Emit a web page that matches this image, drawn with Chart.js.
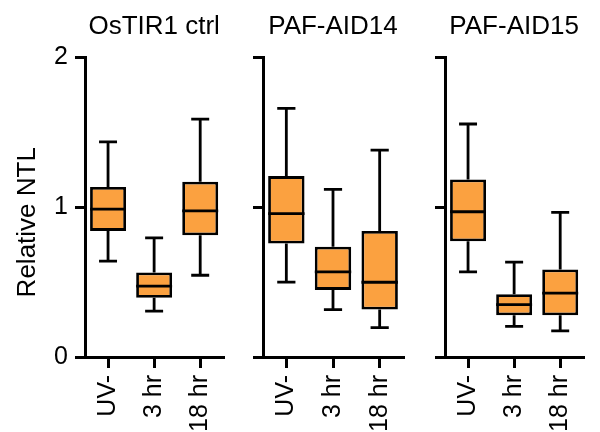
<!DOCTYPE html>
<html>
<head>
<meta charset="utf-8">
<script src="https://cdn.jsdelivr.net/npm/chart.js@4.4.0/dist/chart.umd.min.js"></script>
<style>
  body { margin: 0; background: #fff; }
  .panel { position: absolute; top: 0; }
</style>
</head>
<body>
<canvas id="c1" class="panel" style="left:0" width="240" height="432"></canvas>
<canvas id="c2" class="panel" style="left:240px" width="180" height="432"></canvas>
<canvas id="c3" class="panel" style="left:420px" width="180" height="432"></canvas>
<script>
const categories = ["UV-", "3 hr", "18 hr"];
const panelTitles = ["OsTIR1 ctrl", "PAF-AID14", "PAF-AID15"];
const yTicks = [0, 1, 2];
const yTitle = "Relative NTL";

// box stats per panel, one value per category
const ctrlMin = [0.64, 0.307, 0.546];
const ctrlQ1 = [0.842, 0.395, 0.813];
const ctrlMedian = [0.987, 0.473, 0.976];
const ctrlQ3 = [1.136, 0.564, 1.17];
const ctrlMax = [1.437, 0.795, 1.589];

const aid14Min = [0.5, 0.317, 0.196];
const aid14Q1 = [0.758, 0.448, 0.317];
const aid14Median = [0.958, 0.568, 0.499];
const aid14Q3 = [1.208, 0.737, 0.842];
const aid14Max = [1.66, 1.119, 1.382];

const aid15Min = [0.568, 0.205, 0.174];
const aid15Q1 = [0.773, 0.279, 0.279];
const aid15Median = [0.97, 0.35, 0.426];
const aid15Q3 = [1.186, 0.419, 0.585];
const aid15Max = [1.556, 0.633, 0.966];

const orange = "#FBA140";
const fontFamily = '"Liberation Sans", Arial, sans-serif';
Chart.defaults.font.family = fontFamily;
Chart.defaults.color = "#000";

// whiskers + median lines around the floating bars
const boxPlugin = {
  id: "boxWhiskers",
  beforeDatasetsDraw(chart) {
    const ds = chart.data.datasets[0];
    const y = chart.scales.y;
    const ctx = chart.ctx;
    ctx.save();
    ctx.strokeStyle = "#000";
    ctx.lineWidth = 2.8;
    chart.getDatasetMeta(0).data.forEach((bar, i) => {
      const x = bar.x;
      const cap = bar.width / 4;
      const yMin = y.getPixelForValue(ds.stats.min[i]);
      const yMax = y.getPixelForValue(ds.stats.max[i]);
      const yQ1 = y.getPixelForValue(ds.data[i][0]);
      const yQ3 = y.getPixelForValue(ds.data[i][1]);
      ctx.beginPath();
      ctx.moveTo(x, yQ3); ctx.lineTo(x, yMax);
      ctx.moveTo(x - cap, yMax); ctx.lineTo(x + cap, yMax);
      ctx.moveTo(x, yQ1); ctx.lineTo(x, yMin);
      ctx.moveTo(x - cap, yMin); ctx.lineTo(x + cap, yMin);
      ctx.stroke();
    });
    ctx.restore();
  },
  afterDatasetsDraw(chart) {
    const ds = chart.data.datasets[0];
    const y = chart.scales.y;
    const ctx = chart.ctx;
    ctx.save();
    ctx.strokeStyle = "#000";
    ctx.lineWidth = 2.8;
    chart.getDatasetMeta(0).data.forEach((bar, i) => {
      const ym = y.getPixelForValue(ds.stats.median[i]);
      ctx.beginPath();
      ctx.moveTo(bar.x - bar.width / 2, ym);
      ctx.lineTo(bar.x + bar.width / 2, ym);
      ctx.stroke();
    });
    ctx.restore();
  },
};

const yTitlePlugin = {
  id: "yTitle",
  afterDraw(chart) {
    const a = chart.chartArea;
    const ctx = chart.ctx;
    ctx.save();
    ctx.translate(28, (a.top + a.bottom) / 2 + 15);
    ctx.rotate(-Math.PI / 2);
    ctx.font = "26px " + fontFamily;
    ctx.fillStyle = "#000";
    ctx.textAlign = "center";
    ctx.textBaseline = "middle";
    ctx.fillText(yTitle, 0, 0);
    ctx.restore();
  },
};

const makePanel = function (id, title, q1, q3, min, median, max, yWidth, padRight, showY) {
  const boxes = q1.map((v, i) => [v, q3[i]]);
  const plugins = [boxPlugin];
  if (showY) plugins.push(yTitlePlugin);
  return new Chart(document.getElementById(id), {
    type: "bar",
    data: {
      labels: categories,
      datasets: [
        {
          data: boxes,
          stats: { min, median, max },
          backgroundColor: orange,
          borderColor: "#000",
          borderWidth: 2.8,
          borderSkipped: false,
          barPercentage: 0.78,
          categoryPercentage: 1,
        },
      ],
    },
    options: {
      responsive: false,
      animation: false,
      layout: { padding: { left: 0, right: padRight, top: 0, bottom: 0 } },
      plugins: {
        legend: { display: false },
        tooltip: { enabled: false },
        title: {
          display: true,
          text: title,
          fullSize: false,
          color: "#000",
          font: { size: 26, weight: "normal" },
          padding: { top: 11, bottom: 15.3 },
        },
      },
      scales: {
        x: {
          offset: true,
          ticks: {
            minRotation: 90,
            maxRotation: 90,
            padding: 7,
            color: "#000",
            font: { size: 25 },
          },
          grid: {
            offset: false,
            drawOnChartArea: false,
            tickLength: 11,
            lineWidth: 3,
            color: "#000",
          },
          border: { display: true, color: "#000", width: 3 },
          afterFit(scale) {
            scale.height = 75;
          },
        },
        y: {
          min: 0,
          max: 2,
          afterBuildTicks(scale) {
            scale.ticks = yTicks.map((v) => ({ value: v }));
          },
          ticks: {
            display: showY,
            padding: 7,
            color: "#000",
            font: { size: 25 },
          },
          grid: {
            drawOnChartArea: false,
            tickLength: 10,
            lineWidth: 3,
            color: "#000",
          },
          border: { display: true, color: "#000", width: 3 },
          afterFit(scale) {
            scale.width = yWidth;
          },
        },
      },
    },
    plugins,
  });
};

makePanel("c1", panelTitles[0], ctrlQ1, ctrlQ3, ctrlMin, ctrlMedian, ctrlMax, 85, 12, true);
makePanel("c2", panelTitles[1], aid14Q1, aid14Q3, aid14Min, aid14Median, aid14Max, 23, 17, false);
makePanel("c3", panelTitles[2], aid15Q1, aid15Q3, aid15Min, aid15Median, aid15Max, 25, 13, false);
</script>
</body>
</html>
